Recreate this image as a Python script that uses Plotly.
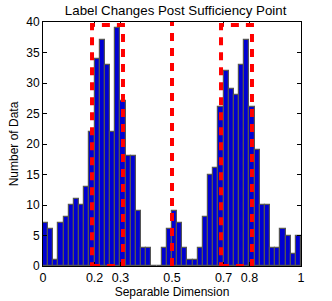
import plotly.graph_objects as go

bin_start = 0.0
bin_width = 0.02
counts = [7, 6, 1, 7, 8, 10, 11, 10, 13, 22,
          34, 37, 33, 22, 39, 27, 18, 18, 9, 3,
          3, 0, 0, 3, 6, 9, 7, 3, 1, 1,
          3, 8, 15, 16, 26, 32, 29, 28, 33, 37,
          26, 19, 10, 10, 3, 3, 6, 5, 2, 5]
centers = [bin_start + bin_width * (i + 0.5) for i in range(len(counts))]

x_ticks = [0, 0.2, 0.3, 0.5, 0.7, 0.8, 1]
x_tick_text = ["0", "0.2", "0.3", "0.5", "0.7", "0.8", "1"]
y_ticks = [0, 5, 10, 15, 20, 25, 30, 35, 40]

boxes = [(0.19, 0.31), (0.69, 0.81)]
box_top = 39.5
divider_x = 0.5

fig = go.Figure()
fig.add_trace(go.Bar(
    x=centers, y=counts, width=bin_width,
    marker=dict(color="#0000D2", line=dict(color="#555555", width=1.2)),
    showlegend=False, hoverinfo="skip",
))

dash_style = dict(color="#FF0000", width=4, dash="8px,7px")
for (x0, x1) in boxes:
    fig.add_shape(type="rect", x0=x0, x1=x1, y0=0, y1=box_top,
                  xref="x", yref="y", line=dash_style, layer="above")
fig.add_shape(type="line", x0=divider_x, x1=divider_x, y0=0, y1=40,
              xref="x", yref="y", line=dash_style, layer="above")

font_family = "Liberation Sans, Arial, sans-serif"
fig.update_layout(
    width=332, height=301,
    margin=dict(l=43, r=31, t=22, b=35, autoexpand=False),
    paper_bgcolor="white", plot_bgcolor="white",
    bargap=0,
    font=dict(family=font_family, size=12, color="black"),
    title=dict(text="Label Changes Post Sufficiency Point", x=0.514, xref="paper",
               xanchor="center", y=0.965, yanchor="middle",
               font=dict(size=13.3, family=font_family)),
    xaxis=dict(range=[0, 1], tickvals=x_ticks, ticktext=x_tick_text,
               ticks="inside", ticklen=4, tickcolor="black",
               showline=True, linecolor="black", linewidth=1, mirror="ticks",
               showgrid=False, zeroline=False, automargin=False,
               title=dict(text="Separable Dimension", standoff=0,
                          font=dict(size=12)),
               tickfont=dict(size=12.5)),
    yaxis=dict(range=[0, 40], tickvals=y_ticks,
               ticks="inside", ticklen=4, tickcolor="black",
               showline=True, linecolor="black", linewidth=1, mirror="ticks",
               showgrid=False, zeroline=False, automargin=False,
               title=dict(text="Number of Data", standoff=5,
                          font=dict(size=12)),
               tickfont=dict(size=12)),
)

fig.write_html("out.html", config={"displayModeBar": False})

# remove the browser's default body margin so the figure sits at the page origin
with open("out.html", "r", encoding="utf-8") as f:
    html = f.read()
html = html.replace("<body>", '<body style="margin:0;padding:0;overflow:hidden">', 1)
with open("out.html", "w", encoding="utf-8") as f:
    f.write(html)
